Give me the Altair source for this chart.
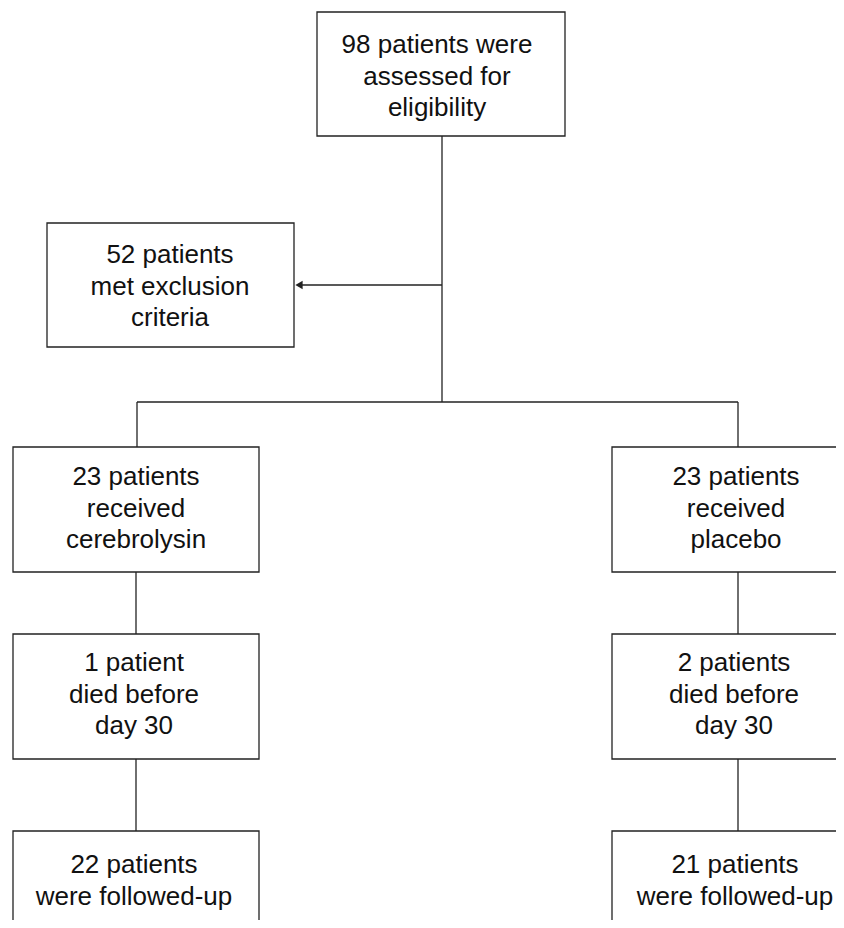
import altair as alt
import pandas as pd

# ---- content ----
labels = [
    "98 patients were\nassessed for\neligibility",
    "52 patients\nmet exclusion\ncriteria",
    "23 patients\nreceived\ncerebrolysin",
    "23 patients\nreceived\nplacebo",
    "1 patient\ndied before\nday 30",
    "2 patients\ndied before\nday 30",
    "22 patients\nwere followed-up",
    "21 patients\nwere followed-up",
]

# ---- layout (page pixel coordinates) ----
box_x1 = [317, 47, 13, 612, 13, 612, 13, 612]
box_x2 = [565, 294, 259, 864, 259, 864, 259, 864]
box_y1 = [12, 223, 447, 447, 634, 634, 831, 831]
box_y2 = [136, 347, 572, 572, 759, 759, 945, 945]
text_x = [437, 170, 136, 736, 134, 734, 134, 735]
text_y = [45, 255, 477, 477, 663, 663, 865, 865]

seg_x1 = [442, 442, 137, 137, 738, 136, 738, 136, 738]
seg_y1 = [136, 285, 402, 402, 402, 572, 572, 759, 759]
seg_x2 = [442, 300, 738, 137, 738, 136, 738, 136, 738]
seg_y2 = [402, 285, 402, 447, 447, 634, 634, 831, 831]

arrow_x = [299]
arrow_y = [285]

boxes = pd.DataFrame({"x1": box_x1, "x2": box_x2, "y1": box_y1, "y2": box_y2,
                      "tx": text_x, "ty": text_y, "label": labels})
segs = pd.DataFrame({"x1": seg_x1, "y1": seg_y1, "x2": seg_x2, "y2": seg_y2})
arrows = pd.DataFrame({"x": arrow_x, "y": arrow_y})

W, H = 828, 912
xs = alt.Scale(domain=[8, 8 + W], nice=False, zero=False)
ys = alt.Scale(domain=[8, 8 + H], nice=False, zero=False, reverse=True)
LINE = "#222222"

rects = alt.Chart(boxes).mark_rect(fill="white", stroke=LINE, strokeWidth=1.3, clip=True).encode(
    x=alt.X("x1:Q", scale=xs, axis=None), x2="x2:Q",
    y=alt.Y("y1:Q", scale=ys, axis=None), y2="y2:Q",
)

rules = alt.Chart(segs).mark_rule(color=LINE, strokeWidth=1.3).encode(
    x=alt.X("x1:Q", scale=xs, axis=None), x2="x2:Q",
    y=alt.Y("y1:Q", scale=ys, axis=None), y2="y2:Q",
)

heads = alt.Chart(arrows).mark_point(shape="triangle-left", filled=True, size=70,
                                     color=LINE, opacity=1).encode(
    x=alt.X("x:Q", scale=xs, axis=None),
    y=alt.Y("y:Q", scale=ys, axis=None),
)

texts = alt.Chart(boxes).mark_text(font="Liberation Sans", fontSize=26, lineBreak="\n",
                                   lineHeight=31.5, align="center", baseline="middle",
                                   color="#111111").encode(
    x=alt.X("tx:Q", scale=xs, axis=None),
    y=alt.Y("ty:Q", scale=ys, axis=None),
    text="label:N",
)

chart = alt.layer(rules, rects, heads, texts).properties(
    width=W, height=H, padding=0, autosize=alt.AutoSizeParams(type="none")
).configure_view(strokeOpacity=0)

chart.save("out.html", embed_options={"renderer": "svg", "actions": False})
